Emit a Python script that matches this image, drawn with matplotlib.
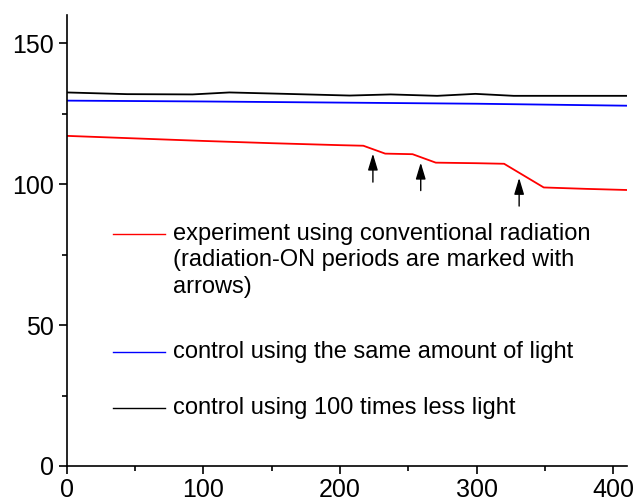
import matplotlib
matplotlib.use("Agg")
import matplotlib.pyplot as plt
from matplotlib.ticker import MultipleLocator
from matplotlib import font_manager

plt.rcParams['font.family'] = ['Liberation Sans', 'DejaVu Sans']

# --- data ---
red_x = [0, 50, 100, 150, 200, 217, 233, 253, 270, 300, 320, 349, 380, 410]
red_y = [117.1, 116.2, 115.3, 114.5, 113.8, 113.6, 110.8, 110.6, 107.6, 107.4, 107.2, 98.8, 98.3, 97.9]

blue_x = [0, 100, 200, 300, 410]
blue_y = [129.6, 129.3, 128.9, 128.5, 127.8]

black_x = [0, 44, 92, 119, 160, 207, 237, 271, 299, 327, 370, 410]
black_y = [132.5, 131.9, 131.8, 132.5, 132.0, 131.4, 131.8, 131.3, 132.0, 131.3, 131.3, 131.3]

arrow_x = [224, 259, 331]
arrow_tail = [100.7, 97.7, 92.2]
arrow_tip = [110.8, 107.6, 102.2]

legend_labels = [
    ["experiment using conventional radiation",
     "(radiation-ON periods are marked with",
     "arrows)"],
    ["control using the same amount of light"],
    ["control using 100 times less light"],
]
legend_colors = ['#ff0000', '#0000ff', '#000000']
legend_y = [82.3, 40.4, 20.6]

xticks = [0, 100, 200, 300, 400]
yticks = [0, 50, 100, 150]

fig = plt.figure(figsize=(6.36, 5.04), dpi=100)
ax = fig.add_axes([0.105, 0.0754, 0.881, 0.895])

ax.plot(black_x, black_y, color='#000000', lw=1.3)
ax.plot(blue_x, blue_y, color='#0000ff', lw=1.3)
ax.plot(red_x, red_y, color='#ff0000', lw=1.3)

for x, t0, t1 in zip(arrow_x, arrow_tail, arrow_tip):
    ax.annotate('', xy=(x, t1), xytext=(x, t0),
                arrowprops=dict(arrowstyle='-|>,head_length=1.0,head_width=0.3',
                                color='black', lw=1.0, shrinkA=0, shrinkB=0))

# legend drawn manually
fs = 17
line_h = 9.4  # data units between text lines
for labels, c, y in zip(legend_labels, legend_colors, legend_y):
    ax.plot([33.5, 71.8], [y, y], color=c, lw=1.0)
    for i, lab in enumerate(labels):
        ax.text(77.7, y - i * line_h, lab, fontsize=fs, va='center', ha='left')

ax.set_xlim(0, 410)
ax.set_ylim(0, 160)
ax.set_xticks(xticks)
ax.set_yticks(yticks)
ax.xaxis.set_minor_locator(MultipleLocator(50))
ax.yaxis.set_minor_locator(MultipleLocator(25))
for s in ['top', 'right']:
    ax.spines[s].set_visible(False)
for s in ['left', 'bottom']:
    ax.spines[s].set_linewidth(1.2)
ax.tick_params(which='major', length=6, width=1.2, direction='out')
ax.tick_params(which='minor', length=3.5, width=1.2, direction='out')
ax.tick_params(axis='y', pad=3)
ax.tick_params(axis='x', pad=3)

# tick label font: narrow variant if available
names = {f.name for f in font_manager.fontManager.ttflist}
if 'Liberation Sans Narrow' in names:
    tick_font = dict(family='Liberation Sans Narrow', size=21)
else:
    tick_font = dict(family='Liberation Sans', size=18)
for lab in ax.get_xticklabels() + ax.get_yticklabels():
    lab.set_fontfamily(tick_font['family'])
    lab.set_fontsize(tick_font['size'])

fig.savefig('out.png', dpi=100)
